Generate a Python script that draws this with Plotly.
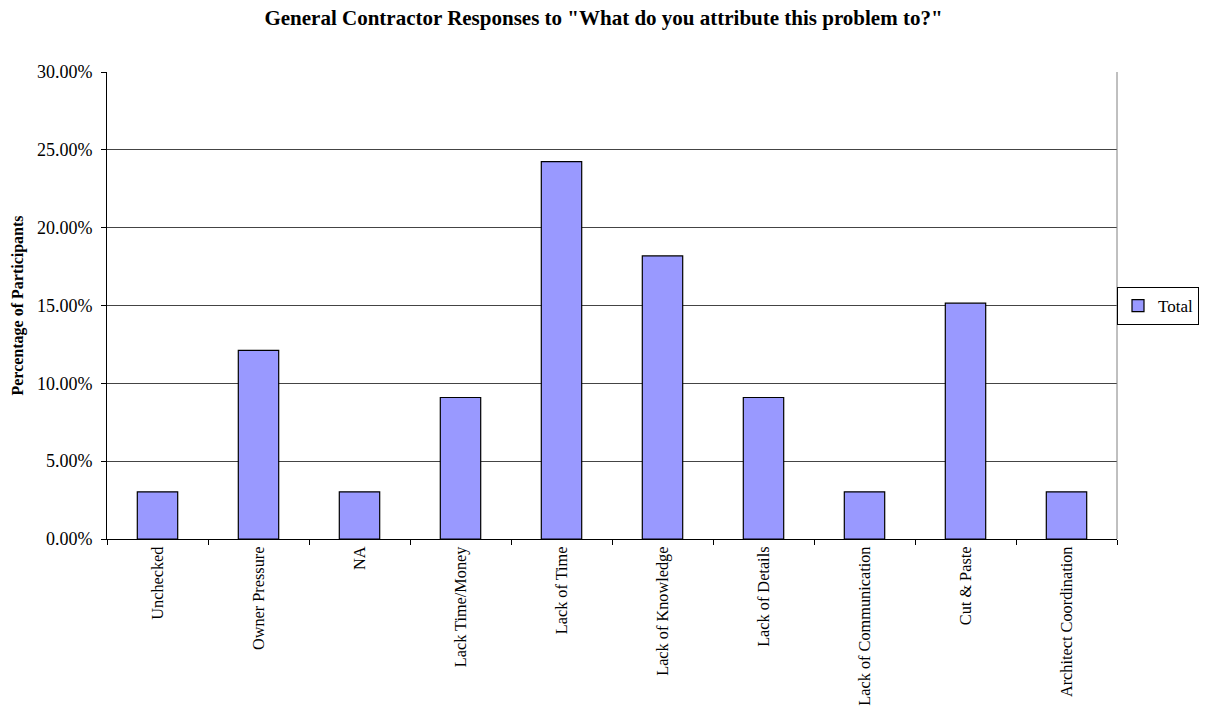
import plotly.graph_objects as go

categories = ["Unchecked", "Owner Pressure", "NA", "Lack Time/Money", "Lack of Time",
              "Lack of Knowledge", "Lack of Details", "Lack of Communication",
              "Cut & Paste", "Architect Coordination"]
# share of 33 participants
total = [1/33, 4/33, 1/33, 3/33, 8/33, 6/33, 3/33, 1/33, 5/33, 1/33]
y_ticks = [0, 0.05, 0.10, 0.15, 0.20, 0.25, 0.30]

serif = "Liberation Serif, Times New Roman, serif"

fig = go.Figure(go.Bar(
    x=categories, y=total, name="Total",
    marker=dict(color="#9999FF", line=dict(color="black", width=1.2)),
    showlegend=True,
))

fig.update_layout(
    width=1207, height=708,
    margin=dict(l=107, r=90, t=72, b=169),
    paper_bgcolor="white", plot_bgcolor="white",
    bargap=0.6,
    font=dict(family=serif, color="black", size=17),
    title=dict(text='<b>General Contractor Responses to "What do you attribute this problem to?"</b>',
               x=0.5, xref="container", xanchor="center", y=0.975, yanchor="middle",
               font=dict(family=serif, size=21, color="black")),
    legend=dict(xref="container", yref="container", x=1117/1207, y=1 - 306/708,
                xanchor="left", yanchor="middle",
                bordercolor="black", borderwidth=1, bgcolor="white",
                font=dict(family=serif, size=17), itemwidth=30),
    xaxis=dict(type="category", tickson="boundaries", ticks="outside", ticklen=5,
               tickcolor="black", showline=True, linecolor="black", linewidth=1,
               tickangle=-90, showgrid=False, mirror=False, automargin=False,
               tickfont=dict(family=serif, size=16.3)),
    yaxis=dict(range=[0, 0.30], tickvals=y_ticks, tickformat=".2%",
               ticks="outside", ticklen=5, tickcolor="black", ticklabelstandoff=5,
               showline=True, linecolor="black", linewidth=1,
               gridcolor="#444444", gridwidth=1, zeroline=False, automargin=False,
               tickfont=dict(family=serif, size=18),
               title=dict(text="<b>Percentage of Participants</b>", standoff=9,
                          font=dict(family=serif, size=16))),
)
# right border of the plot area
fig.add_shape(type="line", xref="paper", yref="paper", x0=1, x1=1, y0=0, y1=1,
              line=dict(color="#808080", width=1))

fig.write_html("out.html")
